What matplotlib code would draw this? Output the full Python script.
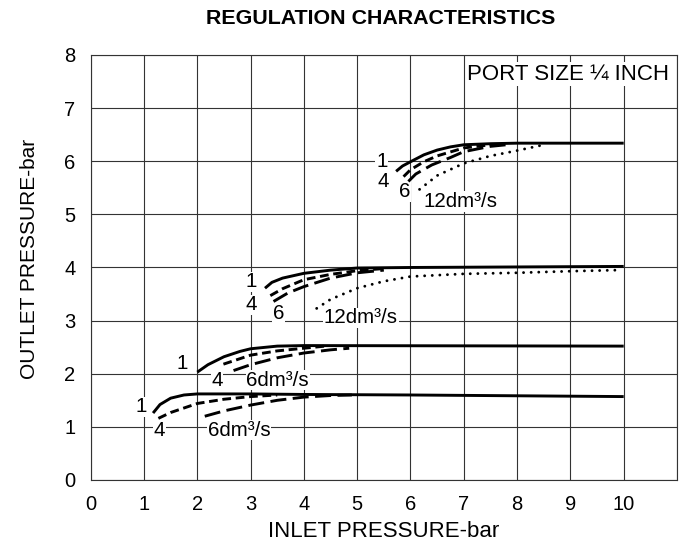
import numpy as np
import matplotlib.pyplot as plt

plt.rcParams['font.family'] = ['Liberation Sans', 'DejaVu Sans']

# set pressure ~6.3 bar
top_x1 = [5.73, 5.85, 6.0, 6.25, 6.5, 6.75, 7.0, 7.5, 8.0, 10.0]
top_y1 = [5.81, 5.91, 5.99, 6.12, 6.21, 6.27, 6.31, 6.33, 6.34, 6.34]
top_x4 = [5.87, 6.0, 6.25, 6.5, 7.0, 7.5]
top_y4 = [5.71, 5.84, 5.99, 6.10, 6.25, 6.31]
top_x6 = [5.96, 6.1, 6.4, 6.75, 7.0, 7.5, 7.9]
top_y6 = [5.62, 5.76, 5.93, 6.07, 6.18, 6.28, 6.32]
top_x12 = [6.17, 6.5, 7.0, 7.5, 8.0, 8.46]
top_y12 = [5.47, 5.73, 5.96, 6.10, 6.20, 6.30]

# set pressure ~4.0 bar
mid_x1 = [3.27, 3.4, 3.6, 4.0, 4.5, 5.0, 6.0, 10.0]
mid_y1 = [3.61, 3.72, 3.80, 3.89, 3.95, 3.99, 4.00, 4.02]
mid_x4 = [3.37, 3.6, 4.0, 4.5, 5.0, 5.5]
mid_y4 = [3.47, 3.60, 3.77, 3.87, 3.94, 3.98]
mid_x6 = [3.43, 3.7, 4.0, 4.5, 5.0, 5.5]
mid_y6 = [3.36, 3.52, 3.64, 3.80, 3.90, 3.95]
mid_x12 = [4.24, 4.5, 5.0, 5.5, 6.0, 7.0, 8.0, 9.0, 9.87]
mid_y12 = [3.23, 3.40, 3.61, 3.74, 3.83, 3.88, 3.90, 3.93, 3.95]

# set pressure ~2.5 bar
low_x1 = [2.0, 2.2, 2.5, 2.8, 3.0, 3.5, 4.0, 10.0]
low_y1 = [2.03, 2.17, 2.32, 2.42, 2.47, 2.52, 2.53, 2.52]
low_x4 = [2.49, 2.7, 3.0, 3.5, 4.0, 4.4]
low_y4 = [2.18, 2.25, 2.35, 2.43, 2.48, 2.52]
low_x6 = [2.68, 3.0, 3.5, 4.0, 4.5, 4.85]
low_y6 = [2.06, 2.17, 2.30, 2.39, 2.45, 2.48]

# set pressure ~1.6 bar
bot_x1 = [1.17, 1.3, 1.5, 1.75, 2.0, 3.0, 4.0, 6.0, 10.0]
bot_y1 = [1.26, 1.42, 1.54, 1.60, 1.62, 1.62, 1.61, 1.60, 1.57]
bot_x4 = [1.27, 1.5, 2.0, 2.5, 3.0, 3.5]
bot_y4 = [1.16, 1.27, 1.44, 1.52, 1.57, 1.60]
bot_x6 = [2.14, 2.5, 3.0, 3.5, 4.0, 4.5, 4.9]
bot_y6 = [1.20, 1.30, 1.41, 1.50, 1.56, 1.59, 1.60]

labels = ['1', '4', '6', '12dm³/s', '1', '4', '6', '12dm³/s', '1', '4', '6dm³/s', '1', '4', '6dm³/s']
label_x = [5.46, 5.49, 5.90, 6.94, 3.02, 3.02, 3.52, 5.07, 1.72, 2.37, 3.51, 0.95, 1.29, 2.78]
label_y = [5.99, 5.62, 5.43, 5.24, 3.73, 3.30, 3.14, 3.05, 2.20, 1.88, 1.88, 1.38, 0.94, 0.94]

fig = plt.figure(figsize=(6.83, 5.47), dpi=100)
ax = fig.add_axes([0.1328, 0.1225, 0.8584, 0.777])

solid = dict(color='black', lw=2.1, solid_capstyle='butt')
dash4 = dict(color='black', lw=2.1, ls=(0, (3, 1.6)))
dash6 = dict(color='black', lw=2.1, ls=(0, (5.5, 2.2)))
dots = dict(color='black', lw=2.1, ls=(0, (0.01, 2.6)), dash_capstyle='round')

ax.plot(top_x1, top_y1, **solid)
ax.plot(top_x4, top_y4, **dash4)
ax.plot(top_x6, top_y6, **dash6)
ax.plot(top_x12, top_y12, **dots)
ax.plot(mid_x1, mid_y1, **solid)
ax.plot(mid_x4, mid_y4, **dash4)
ax.plot(mid_x6, mid_y6, **dash6)
ax.plot(mid_x12, mid_y12, **dots)
ax.plot(low_x1, low_y1, **solid)
ax.plot(low_x4, low_y4, **dash4)
ax.plot(low_x6, low_y6, **dash6)
ax.plot(bot_x1, bot_y1, **solid)
ax.plot(bot_x4, bot_y4, **dash4)
ax.plot(bot_x6, bot_y6, **dash6)

for t, x, y in zip(labels, label_x, label_y):
    ax.text(x, y, t, ha='center', va='center', fontsize=14.8, zorder=1.5,
            bbox=dict(facecolor='white', edgecolor='none', pad=0.5))

ax.text(7.06, 7.64, 'PORT SIZE ¼ INCH', ha='left', va='center', fontsize=16, zorder=1.5,
        bbox=dict(facecolor='white', edgecolor='none', pad=1.0))

ax.set_xlim(0, 11)
ax.set_ylim(0, 8)
ax.set_xticks(range(0, 12))
ax.set_xticklabels([str(i) for i in range(0, 11)] + [''])
ax.set_yticks(range(0, 9))
ax.grid(True, color='#333333', lw=0.8)
ax.set_axisbelow(True)
ax.tick_params(length=0, labelsize=14.5)
ax.tick_params(axis='x', pad=11)
ax.tick_params(axis='y', pad=11)
for s in ax.spines.values():
    s.set_linewidth(0.8)
    s.set_color('#333333')

ax.set_xlabel('INLET PRESSURE-bar', fontsize=16, labelpad=5)
ax.set_ylabel('OUTLET PRESSURE-bar', fontsize=15, labelpad=18)
ax.yaxis.label.set_y(0.52)
fig.text(0.558, 0.967, 'REGULATION CHARACTERISTICS', ha='center', va='center',
         fontsize=15.4, fontweight='bold')

fig.savefig('out.png', dpi=100)
